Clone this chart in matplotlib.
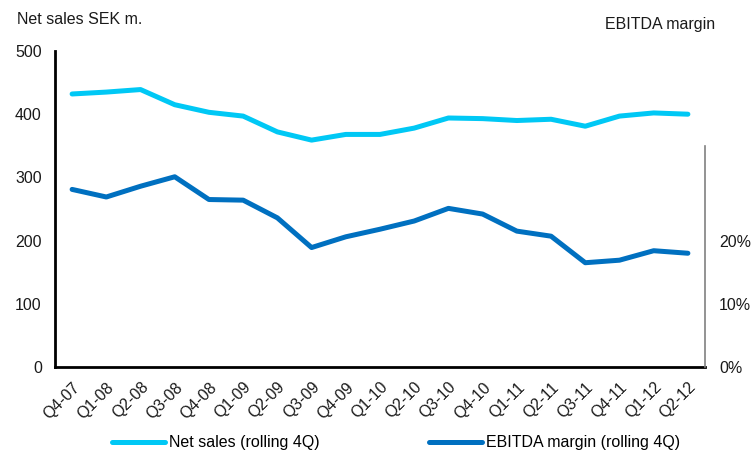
import matplotlib
matplotlib.use("Agg")
import matplotlib.pyplot as plt
from matplotlib.ticker import FuncFormatter

plt.rcParams['font.family'] = ['Liberation Sans', 'DejaVu Sans']

quarters = ["Q4-07", "Q1-08", "Q2-08", "Q3-08", "Q4-08", "Q1-09", "Q2-09", "Q3-09",
            "Q4-09", "Q1-10", "Q2-10", "Q3-10", "Q4-10", "Q1-11", "Q2-11", "Q3-11",
            "Q4-11", "Q1-12", "Q2-12"]
net_sales = [432, 435, 439, 415, 403, 397, 372, 359, 368, 368, 378, 394, 393,
             390, 392, 381, 397, 402, 400]
ebitda_margin = [0.281, 0.269, 0.286, 0.301, 0.265, 0.264, 0.236, 0.189, 0.206,
                 0.218, 0.231, 0.251, 0.242, 0.215, 0.207, 0.165, 0.169, 0.184, 0.180]
left_ticks = [0, 100, 200, 300, 400, 500]
right_ticks = [0.0, 0.1, 0.2]

light_blue = "#00C8F5"
dark_blue = "#0070C0"
text_color = "#1a1a1a"
fs = 11.5

fig = plt.figure(figsize=(7.53, 4.55), dpi=100)
ax = fig.add_axes([55 / 753, 1 - 367 / 455, 650 / 753, 316 / 455])
ax2 = ax.twinx()

x = list(range(len(quarters)))
l1, = ax.plot(x, net_sales, color=light_blue, lw=3.6, solid_capstyle='round',
              solid_joinstyle='round', label="Net sales (rolling 4Q)", zorder=3)
l2, = ax2.plot(x, ebitda_margin, color=dark_blue, lw=3.6, solid_capstyle='round',
               solid_joinstyle='round', label="EBITDA margin (rolling 4Q)", zorder=3)

ax.set_xlim(-0.5, len(quarters) - 0.5)
ax.set_ylim(0, 500)
ax.set_yticks(left_ticks)
ax.set_xticks(x)
ax.set_xticklabels(quarters, rotation=45, ha='right', rotation_mode='anchor')
ax.tick_params(axis='both', length=0, labelsize=fs, colors=text_color)
ax.tick_params(axis='y', pad=9.5)
ax.tick_params(axis='x', pad=9)

ax2.set_ylim(0, 0.5)
ax2.set_yticks(right_ticks)
ax2.yaxis.set_major_formatter(FuncFormatter(lambda v, p: f"{v * 100:.0f}%"))
ax2.tick_params(axis='y', length=0, labelsize=fs, colors=text_color, pad=10)

for a in (ax, ax2):
    a.spines['top'].set_visible(False)
ax.spines['right'].set_visible(False)
ax.spines['left'].set_linewidth(2)
ax.spines['bottom'].set_linewidth(2)
ax.spines['left'].set_color('black')
ax.spines['bottom'].set_color('black')
ax2.spines['left'].set_visible(False)
ax2.spines['bottom'].set_visible(False)
ax2.spines['right'].set_color('#808080')
ax2.spines['right'].set_linewidth(1.2)
ax2.spines['right'].set_bounds(0, 0.35)

fig.text(17 / 753, 1 - 20 / 455, "Net sales SEK m.", fontsize=fs, va='center',
         color=text_color)
fig.text(605 / 753, 1 - 25 / 455, "EBITDA margin", fontsize=fs, va='center',
         color=text_color)

fig.legend([l1, l2], [l1.get_label(), l2.get_label()], loc='center',
           bbox_to_anchor=(396 / 753, 1 - 443 / 455), ncol=2, frameon=False,
           fontsize=fs, handlelength=3.3, handletextpad=0.25, columnspacing=6.9)

fig.savefig("out.png", dpi=100)
